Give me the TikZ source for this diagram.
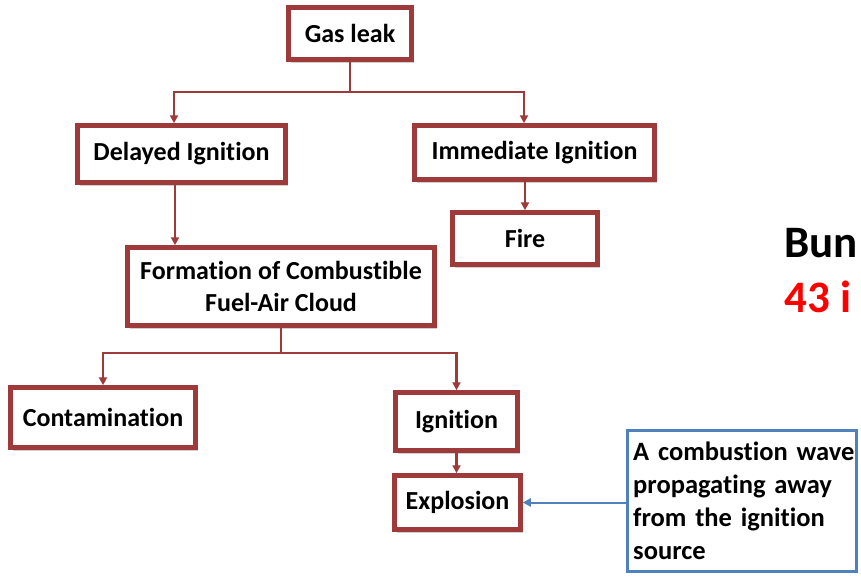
\documentclass[tikz,border=0pt]{standalone}
\usepackage{fontspec}
\setmainfont{Carlito}[Ligatures=NoCommon]
\usetikzlibrary{arrows.meta,shadows,calc}
\definecolor{boxred}{RGB}{158,58,58}
\definecolor{noteblue}{RGB}{79,129,189}
\definecolor{hotred}{RGB}{255,0,0}
\begin{document}
\begin{tikzpicture}[x=1pt,y=-1pt,
  redbox/.style={draw=boxred, line width=4.5pt, fill=white, inner sep=0pt,
    font=\fontsize{26}{32}\selectfont\bfseries, align=center,
    drop shadow={shadow xshift=2.5pt, shadow yshift=-3pt, opacity=0.3, fill=black!60}},
  link/.style={draw=boxred, line width=2.5pt},
  linkarrow/.style={link, -{Triangle[length=8pt,width=8pt]}},
  bluebox/.style={draw=noteblue, line width=3pt, fill=white, inner sep=0pt},
  notetext/.style={font=\fontsize{26.5}{33}\selectfont\bfseries, align=left, inner sep=0pt, text width=228pt},
  bluearrow/.style={draw=noteblue, line width=2pt, -{Triangle[length=8pt,width=8pt]}},
  bigtext/.style={font=\fontsize{45}{50}\selectfont\bfseries, inner sep=0pt}
  ]
\clip (0,0) rectangle (861,578);
\fill[white] (0,0) rectangle (861,578);

\node[redbox, minimum width=123, minimum height=52] (gas) at (350,33.5) {Gas leak};
\node[redbox, minimum width=208, minimum height=57] (delayed) at (181.5,154) {Delayed Ignition};
\node[redbox, minimum width=240, minimum height=54] (immediate) at (534.5,152.5) {Immediate Ignition};
\node[redbox, minimum width=145, minimum height=52] (fire) at (525,238.5) {Fire};
\node[redbox, minimum width=307, minimum height=78] (formation) at (281,286.5) {Formation of Combustible\\Fuel-Air Cloud};
\node[redbox, minimum width=185, minimum height=60] (contamination) at (103,417.5) {Contamination};
\node[redbox, minimum width=122, minimum height=58] (ignition) at (456.5,421.5) {Ignition};
\node[redbox, minimum width=126, minimum height=54] (explosion) at (457.5,502.5) {Explosion};

\node[bluebox, minimum width=229, minimum height=141] (note) at (742,501) {};
\node[notetext, anchor=north west] (notetxt) at (633,441.5)
  {A combustion wave\\propagating away\\from the ignition\\source};

\node[bigtext, anchor=base west] (bun) at (784,257) {Bun};
\node[bigtext, anchor=base west, text=hotred] (num) at (784,312) {43 i};

% connectors
\coordinate (j1) at ($(gas.south)+(0,30)$);
\draw[link] (gas.south) -- (j1);
\draw[linkarrow] (j1) -| ($(delayed.north)+(-7.5,0)$);
\draw[linkarrow] (j1) -| ($(immediate.north)+(-10.5,0)$);
\draw[linkarrow] (immediate.south -| fire.north) -- (fire.north);
\coordinate (d1) at ($(delayed.south)+(-6.5,0)$);
\draw[linkarrow] (d1) -- (d1 |- formation.north);
\coordinate (j2) at ($(formation.south)+(0,25)$);
\draw[link] (formation.south) -- (j2);
\draw[linkarrow] (j2) -| (contamination.north);
\draw[linkarrow] (j2) -| (ignition.north);
\draw[linkarrow] (ignition.south) -- (ignition.south |- explosion.north);
\draw[bluearrow] (note.west |- explosion.east) -- (explosion.east);
\end{tikzpicture}
\end{document}
